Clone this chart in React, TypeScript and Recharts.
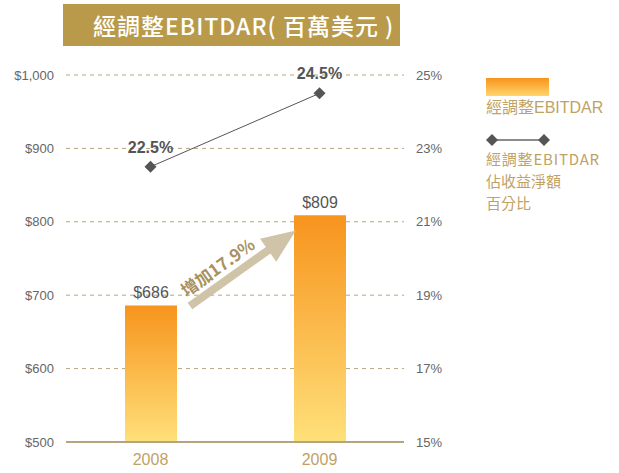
import React from 'react';
import { ComposedChart, Bar, Line, XAxis, YAxis, CartesianGrid, LabelList, Legend } from 'recharts';

const years = ['2008', '2009'];
const ebitdar = [686, 809];
const margin = [22.5, 24.5];
const leftTicks = [500, 600, 700, 800, 900, 1000];
const rightTicks = [15, 17, 19, 21, 23, 25];

const data = years.map((y, i) => ({ year: y, ebitdar: ebitdar[i], margin: margin[i] }));

const FONT = '"Liberation Sans", Arial, "Noto Sans CJK TC", sans-serif';
const CJK = '"Noto Sans CJK TC", "Liberation Sans", sans-serif';
const TAN = '#bfa265';
const GRID = '#b3a67e';

const Diamond = (props: any) => {
  const { cx, cy } = props;
  if (cx == null || cy == null) return null;
  const s = 6;
  return <path d={`M${cx},${cy - s}L${cx + s},${cy}L${cx},${cy + s}L${cx - s},${cy}Z`} fill="#555" />;
};

const LegendContent = () => (
  <div style={{ fontFamily: CJK, color: TAN, fontSize: 16, lineHeight: '22px', whiteSpace: 'nowrap' }}>
    <div style={{ width: 63, height: 18, background: 'linear-gradient(#f7941d, #ffd66b)' }} />
    <div style={{ marginTop: 1, fontFamily: FONT }}>經調整EBITDAR</div>
    <svg width={64} height={16} style={{ display: 'block', marginTop: 13 }}>
      <line x1={6} y1={8} x2={58} y2={8} stroke="#666" strokeWidth={1.5} />
      <path d="M6,2L12,8L6,14L0,8Z" fill="#555" />
      <path d="M58,2L64,8L58,14L52,8Z" fill="#555" />
    </svg>
    <div style={{ marginTop: 0, fontSize: 15, letterSpacing: 0.8 }}>經調整EBITDAR</div>
    <div style={{ fontSize: 15 }}>佔收益淨額</div>
    <div style={{ fontSize: 15 }}>百分比</div>
  </div>
);

export default function App() {
  return (
    <div style={{ position: 'absolute', left: 0, top: 0, width: 619, height: 473, background: '#fff' }}>
      <div
        style={{
          position: 'absolute', left: 63, top: 4, width: 307, height: 42, paddingLeft: 30, background: '#b89a4a',
          color: '#fff', fontFamily: CJK, fontSize: 23, lineHeight: '42px', textAlign: 'left', fontWeight: 500,
          whiteSpace: 'nowrap', letterSpacing: 1,
        }}
      >
        經調整EBITDAR( 百萬美元 )
      </div>
      <ComposedChart
        width={619}
        height={473}
        data={data}
        margin={{ top: 75, right: 155, bottom: 0, left: 0 }}
        barCategoryGap="35%"
      >
        <defs>
          <linearGradient id="barGrad" x1="0" y1="0" x2="0" y2="1">
            <stop offset="0%" stopColor="#f7941d" />
            <stop offset="100%" stopColor="#ffe07a" />
          </linearGradient>
        </defs>
        <CartesianGrid yAxisId="left" vertical={false} stroke={GRID} strokeDasharray="4 4" />
        <XAxis
          dataKey="year"
          height={31}
          axisLine={{ stroke: GRID, strokeWidth: 2 }}
          tickLine={false}
          tick={{ fill: TAN, fontSize: 16, fontFamily: FONT }}
          tickMargin={6}
        />
        <YAxis
          yAxisId="left"
          domain={[500, 1000]}
          ticks={leftTicks}
          width={66}
          axisLine={false}
          tickLine={false}
          tick={{ fill: '#666', fontSize: 13, fontFamily: FONT }}
          tickFormatter={(v: number) => '$' + v.toLocaleString('en-US')}
          tickMargin={6}
        />
        <YAxis
          yAxisId="right"
          orientation="right"
          domain={[15, 25]}
          ticks={rightTicks}
          width={60}
          axisLine={false}
          tickLine={false}
          tick={{ fill: '#666', fontSize: 13, fontFamily: FONT }}
          tickFormatter={(v: number) => v + '%'}
          tickMargin={6}
        />
        <Bar yAxisId="left" dataKey="ebitdar" fill="url(#barGrad)" barSize={52} isAnimationActive={false}>
          <LabelList
            dataKey="ebitdar"
            position="top"
            offset={7}
            formatter={(v: any) => '$' + v}
            style={{ fill: '#555', fontSize: 16, fontFamily: FONT }}
          />
        </Bar>
        <Line
          yAxisId="right"
          dataKey="margin"
          stroke="#555"
          strokeWidth={1}
          dot={<Diamond />}
          activeDot={false}
          isAnimationActive={false}
        >
          <LabelList
            dataKey="margin"
            position="top"
            offset={14}
            formatter={(v: any) => v + '%'}
            style={{ fill: '#555', fontSize: 16, fontWeight: 'bold', fontFamily: FONT }}
          />
        </Line>
        <Legend
          layout="horizontal"
          verticalAlign="middle"
          align="center"
          content={<LegendContent />}
          wrapperStyle={{ position: 'absolute', left: 486, top: 78, width: 130 }}
        />
      </ComposedChart>
      <svg width={619} height={473} style={{ position: 'absolute', left: 0, top: 0, pointerEvents: 'none' }}>
        <g transform="translate(190,306) rotate(-35.5)">
          <rect x={0} y={-4} width={100} height={8} fill="#cfc3a8" />
          <path d="M96,-14L130,0L96,14Z" fill="#cfc3a8" />
          <text x={2} y={-9} fill="#a8915e" fontSize={17} fontWeight="bold" fontFamily={CJK}>
            增加17.9%
          </text>
        </g>
      </svg>
    </div>
  );
}
